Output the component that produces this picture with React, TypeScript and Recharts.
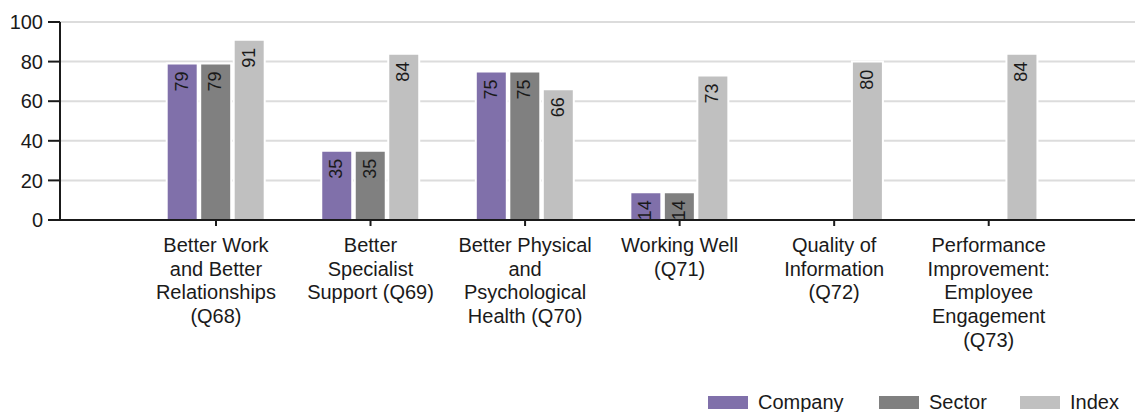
import React from 'react';
import {
  BarChart,
  Bar,
  XAxis,
  YAxis,
  CartesianGrid,
  Legend,
  LabelList,
} from 'recharts';

const categories = [
  'Better Work\nand Better\nRelationships\n(Q68)',
  'Better\nSpecialist\nSupport (Q69)',
  'Better Physical\nand\nPsychological\nHealth (Q70)',
  'Working Well\n(Q71)',
  'Quality of\nInformation\n(Q72)',
  'Performance\nImprovement:\nEmployee\nEngagement\n(Q73)',
];
const company = [79, 35, 75, 14, null, null];
const sector = [79, 35, 75, 14, null, null];
const index = [91, 84, 66, 73, 80, 84];
const yTicks = [0, 20, 40, 60, 80, 100];
const seriesNames = ['Company', 'Sector', 'Index'];
const seriesColors = ['#8070aa', '#808080', '#c0c0c0'];

const data = categories.map((name, i) => ({
  name,
  Company: company[i],
  Sector: sector[i],
  Index: index[i],
}));

const FONT = '"Liberation Sans", Arial, sans-serif';

const CategoryTick = (props: any) => {
  const { x, y, payload } = props;
  const lines = String(payload.value).split('\n');
  return (
    <text
      x={x}
      y={y}
      textAnchor="middle"
      fontFamily={FONT}
      fontSize={20}
      fill="#1a1a1a"
    >
      {lines.map((l, i) => (
        <tspan key={i} x={x} y={y + 24 + i * 23.7}>
          {l}
        </tspan>
      ))}
    </text>
  );
};

const BarValue = (props: any) => {
  const { x, y, width, value } = props;
  if (value == null) return null;
  const cx = x + width / 2 + 5.5;
  const ty = y + 8;
  return (
    <text
      x={cx}
      y={ty}
      transform={`rotate(-90, ${cx}, ${ty})`}
      textAnchor="end"
      fontFamily={FONT}
      fontSize={18}
      fill="#1a1a1a"
    >
      {value}
    </text>
  );
};

// swatch / text x offsets inside the legend box
const legendSpots = [
  { sx: 8, tx: 58 },
  { sx: 179, tx: 229 },
  { sx: 320, tx: 370 },
];

const LegendBox = () => (
  <svg width={435} height={22} style={{ display: 'block' }}>
    {seriesNames.map((name, i) => (
      <g key={name}>
        <rect x={legendSpots[i].sx} y={6} width={40} height={13} fill={seriesColors[i]} />
        <text
          x={legendSpots[i].tx}
          y={19}
          fontFamily={FONT}
          fontSize={20}
          fill="#1a1a1a"
        >
          {name}
        </text>
      </g>
    ))}
  </svg>
);

export default function App() {
  return (
    <div style={{ position: 'absolute', left: 0, top: 0, width: 1135, height: 412, overflow: 'hidden', background: '#fff' }}>
      <BarChart
        width={1135}
        height={412}
        data={data}
        margin={{ top: 22, right: 0, bottom: 0, left: 8 }}
        barSize={31}
        barGap={2.5}
      >
        <CartesianGrid vertical={false} stroke="#dcdcdc" strokeWidth={2} />
        <XAxis
          dataKey="name"
          height={192}
          interval={0}
          padding={{ left: 78.7, right: 69 }}
          tick={<CategoryTick />}
          tickSize={6}
          axisLine={{ stroke: '#1a1a1a', strokeWidth: 2 }}
          tickLine={{ stroke: '#1a1a1a', strokeWidth: 2 }}
        />
        <YAxis
          width={52}
          domain={[0, 100]}
          ticks={yTicks}
          tickSize={12}
          tickMargin={5}
          axisLine={{ stroke: '#1a1a1a', strokeWidth: 2 }}
          tickLine={{ stroke: '#1a1a1a', strokeWidth: 2 }}
          tick={{ fontSize: 20, fill: '#1a1a1a', fontFamily: FONT }}
        />
        <Legend
          layout="horizontal"
          verticalAlign="middle"
          align="center"
          wrapperStyle={{ left: 700, top: 390, width: 435 }}
          content={<LegendBox />}
        />
        {seriesNames.map((name, i) => (
          <Bar
            key={name}
            dataKey={name}
            fill={seriesColors[i]}
            stroke="#fff"
            strokeWidth={2}
            isAnimationActive={false}
          >
            <LabelList dataKey={name} content={<BarValue />} />
          </Bar>
        ))}
      </BarChart>
    </div>
  );
}
